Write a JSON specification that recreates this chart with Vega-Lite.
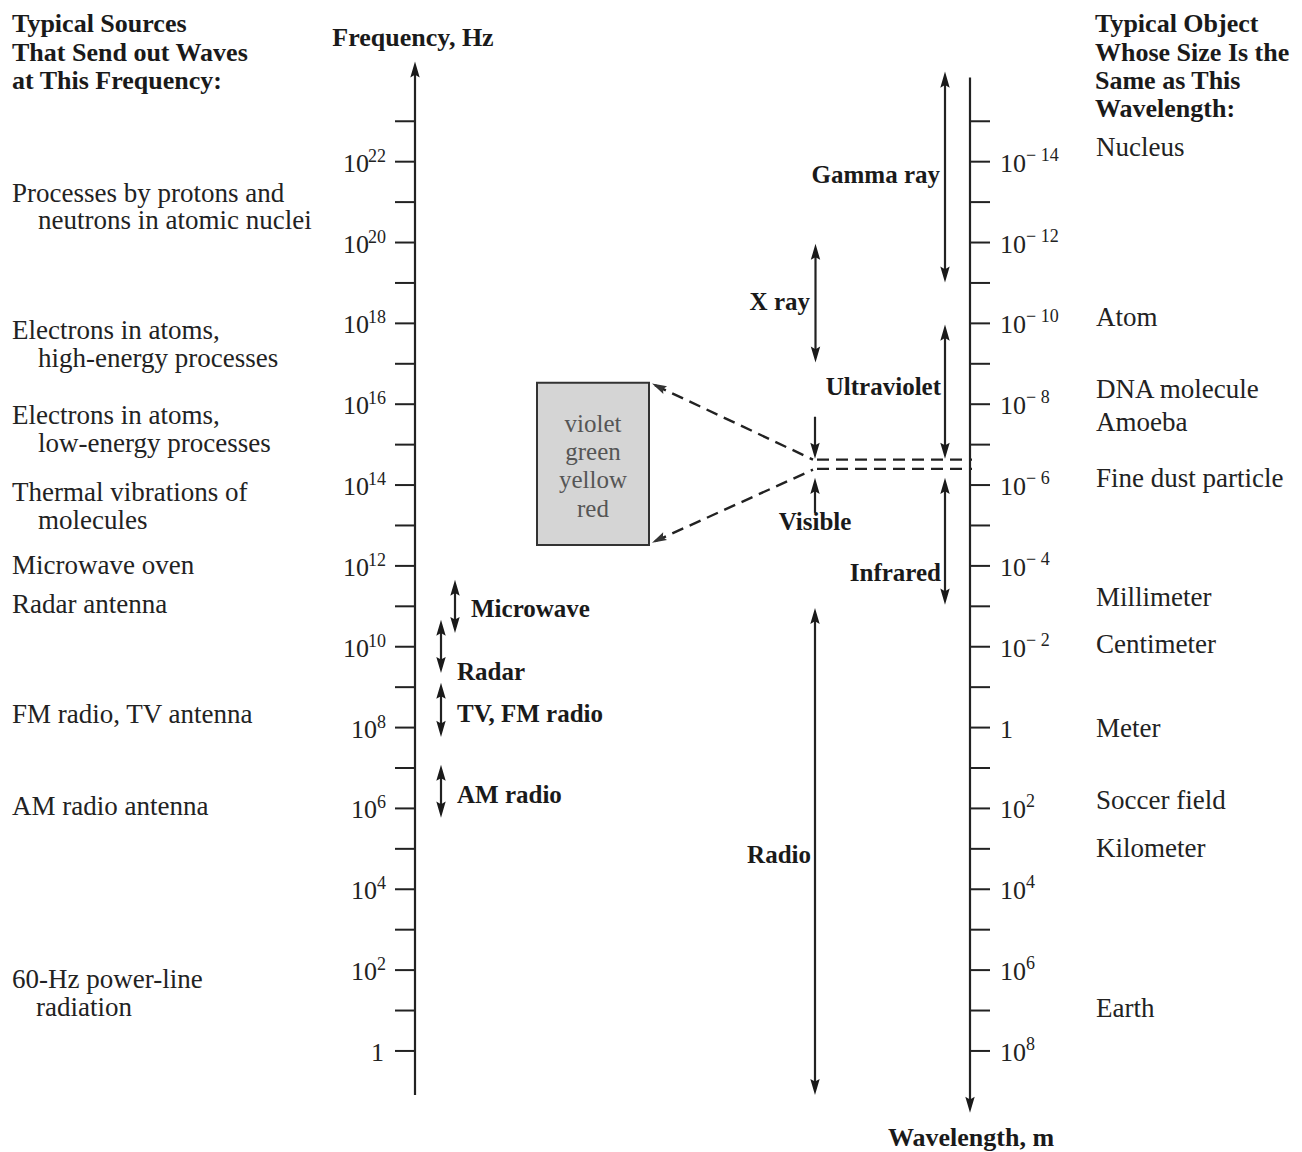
{
  "$schema": "https://vega.github.io/schema/vega-lite/v6.json",
  "width": 1302,
  "height": 1152,
  "autosize": {"type": "none"},
  "padding": 0,
  "background": "white",
  "config": {"view": {"stroke": null}},
  "datasets": {
    "shafts": [
      {"x": 415, "L": -1.09, "L2": 24.33},
      {"x": 970, "L": -1.38, "L2": 24.08},
      {"x": 945, "L": 19.16, "L2": 24.08},
      {"x": 815.5, "L": 17.18, "L2": 19.82},
      {"x": 945, "L": 14.8, "L2": 17.82},
      {"x": 815, "L": 14.8, "L2": 15.69},
      {"x": 815, "L": 13.31, "L2": 14.03},
      {"x": 945, "L": 11.19, "L2": 14.03},
      {"x": 815, "L": -0.94, "L2": 10.81},
      {"x": 455, "L": 10.49, "L2": 11.51},
      {"x": 441, "L": 9.5, "L2": 10.52},
      {"x": 441, "L": 7.92, "L2": 8.96},
      {"x": 441, "L": 5.92, "L2": 6.93}
    ],
    "heads": [
      {"x": 415, "L": 24.48, "dir": "up"},
      {"x": 945, "L": 24.23, "dir": "up"},
      {"x": 815.5, "L": 19.97, "dir": "up"},
      {"x": 945, "L": 17.97, "dir": "up"},
      {"x": 815, "L": 14.18, "dir": "up"},
      {"x": 945, "L": 14.18, "dir": "up"},
      {"x": 815, "L": 10.96, "dir": "up"},
      {"x": 455, "L": 11.66, "dir": "up"},
      {"x": 441, "L": 10.67, "dir": "up"},
      {"x": 441, "L": 9.11, "dir": "up"},
      {"x": 441, "L": 7.08, "dir": "up"},
      {"x": 970, "L": -1.53, "dir": "down"},
      {"x": 945, "L": 19.01, "dir": "down"},
      {"x": 815.5, "L": 17.03, "dir": "down"},
      {"x": 945, "L": 14.65, "dir": "down"},
      {"x": 815, "L": 14.65, "dir": "down"},
      {"x": 945, "L": 11.04, "dir": "down"},
      {"x": 815, "L": -1.09, "dir": "down"},
      {"x": 455, "L": 10.34, "dir": "down"},
      {"x": 441, "L": 9.35, "dir": "down"},
      {"x": 441, "L": 7.77, "dir": "down"},
      {"x": 441, "L": 5.77, "dir": "down"},
      {"x": 652, "L": 16.51, "dir": "upleft"},
      {"x": 652, "L": 12.57, "dir": "downleft"}
    ],
    "dashes": [
      {"seg": "a", "x": 813, "L": 14.63},
      {"seg": "a", "x": 655, "L": 16.47},
      {"seg": "b", "x": 813, "L": 14.38},
      {"seg": "b", "x": 655, "L": 12.61},
      {"seg": "c", "x": 817, "L": 14.63},
      {"seg": "c", "x": 972, "L": 14.63},
      {"seg": "d", "x": 817, "L": 14.4},
      {"seg": "d", "x": 972, "L": 14.4}
    ],
    "box": [{"x": 537, "x2": 649, "L": 12.52, "L2": 16.53}],
    "decades": [
      {"L": 0}, {"L": 1}, {"L": 2}, {"L": 3}, {"L": 4}, {"L": 5}, {"L": 6}, {"L": 7},
      {"L": 8}, {"L": 9}, {"L": 10}, {"L": 11}, {"L": 12}, {"L": 13}, {"L": 14}, {"L": 15},
      {"L": 16}, {"L": 17}, {"L": 18}, {"L": 19}, {"L": 20}, {"L": 21}, {"L": 22}, {"L": 23}
    ],
    "freqLabels": [
      {"L": 22, "base": "10", "exp": "22"},
      {"L": 20, "base": "10", "exp": "20"},
      {"L": 18, "base": "10", "exp": "18"},
      {"L": 16, "base": "10", "exp": "16"},
      {"L": 14, "base": "10", "exp": "14"},
      {"L": 12, "base": "10", "exp": "12"},
      {"L": 10, "base": "10", "exp": "10"},
      {"L": 8, "base": "10", "exp": "8"},
      {"L": 6, "base": "10", "exp": "6"},
      {"L": 4, "base": "10", "exp": "4"},
      {"L": 2, "base": "10", "exp": "2"},
      {"L": 0, "base": "1", "exp": ""}
    ],
    "waveLabels": [
      {"L": 22, "base": "10", "exp": "− 14"},
      {"L": 20, "base": "10", "exp": "− 12"},
      {"L": 18, "base": "10", "exp": "− 10"},
      {"L": 16, "base": "10", "exp": "− 8"},
      {"L": 14, "base": "10", "exp": "− 6"},
      {"L": 12, "base": "10", "exp": "− 4"},
      {"L": 10, "base": "10", "exp": "− 2"},
      {"L": 8, "base": "1", "exp": ""},
      {"L": 6, "base": "10", "exp": "2"},
      {"L": 4, "base": "10", "exp": "4"},
      {"L": 2, "base": "10", "exp": "6"},
      {"L": 0, "base": "10", "exp": "8"}
    ],
    "texts": [
      {"role": "head", "x": 12, "L": 25.4, "text": "Typical Sources"},
      {"role": "head", "x": 12, "L": 24.7, "text": "That Send out Waves"},
      {"role": "head", "x": 12, "L": 23.99, "text": "at This Frequency:"},
      {"role": "head", "x": 1095, "L": 25.4, "text": "Typical Object"},
      {"role": "head", "x": 1095, "L": 24.69, "text": "Whose Size Is the"},
      {"role": "head", "x": 1095, "L": 23.99, "text": "Same as This"},
      {"role": "head", "x": 1095, "L": 23.3, "text": "Wavelength:"},
      {"role": "bold", "x": 471, "L": 10.93, "text": "Microwave"},
      {"role": "bold", "x": 457, "L": 9.37, "text": "Radar"},
      {"role": "bold", "x": 457, "L": 8.33, "text": "TV, FM radio"},
      {"role": "bold", "x": 457, "L": 6.32, "text": "AM radio"},
      {"role": "boldR", "x": 940, "L": 21.68, "text": "Gamma ray"},
      {"role": "boldR", "x": 810, "L": 18.52, "text": "X ray"},
      {"role": "boldR", "x": 941, "L": 16.42, "text": "Ultraviolet"},
      {"role": "boldR", "x": 941, "L": 11.83, "text": "Infrared"},
      {"role": "boldR", "x": 811, "L": 4.85, "text": "Radio"},
      {"role": "headC", "x": 413, "L": 25.06, "text": "Frequency, Hz"},
      {"role": "boldC", "x": 815, "L": 13.08, "text": "Visible"},
      {"role": "headC", "x": 971, "L": -2.15, "text": "Wavelength, m"},
      {"role": "plain", "x": 12, "L": 21.21, "text": "Processes by protons and"},
      {"role": "plain", "x": 38, "L": 20.53, "text": "neutrons in atomic nuclei"},
      {"role": "plain", "x": 12, "L": 17.82, "text": "Electrons in atoms,"},
      {"role": "plain", "x": 38, "L": 17.12, "text": "high-energy processes"},
      {"role": "plain", "x": 12, "L": 15.72, "text": "Electrons in atoms,"},
      {"role": "plain", "x": 38, "L": 15.02, "text": "low-energy processes"},
      {"role": "plain", "x": 12, "L": 13.81, "text": "Thermal vibrations of"},
      {"role": "plain", "x": 38, "L": 13.12, "text": "molecules"},
      {"role": "plain", "x": 12, "L": 12.0, "text": "Microwave oven"},
      {"role": "plain", "x": 12, "L": 11.04, "text": "Radar antenna"},
      {"role": "plain", "x": 12, "L": 8.31, "text": "FM radio, TV antenna"},
      {"role": "plain", "x": 12, "L": 6.04, "text": "AM radio antenna"},
      {"role": "plain", "x": 12, "L": 1.76, "text": "60-Hz power-line"},
      {"role": "plain", "x": 36, "L": 1.06, "text": "radiation"},
      {"role": "plain", "x": 1096, "L": 22.33, "text": "Nucleus"},
      {"role": "plain", "x": 1096, "L": 18.14, "text": "Atom"},
      {"role": "plain", "x": 1096, "L": 16.36, "text": "DNA molecule"},
      {"role": "plain", "x": 1096, "L": 15.54, "text": "Amoeba"},
      {"role": "plain", "x": 1096, "L": 14.16, "text": "Fine dust particle"},
      {"role": "plain", "x": 1096, "L": 11.21, "text": "Millimeter"},
      {"role": "plain", "x": 1096, "L": 10.05, "text": "Centimeter"},
      {"role": "plain", "x": 1096, "L": 7.97, "text": "Meter"},
      {"role": "plain", "x": 1096, "L": 6.19, "text": "Soccer field"},
      {"role": "plain", "x": 1096, "L": 5.0, "text": "Kilometer"},
      {"role": "plain", "x": 1096, "L": 1.04, "text": "Earth"},
      {"role": "box", "x": 593, "L": 15.5, "text": "violet"},
      {"role": "box", "x": 593, "L": 14.81, "text": "green"},
      {"role": "box", "x": 593, "L": 14.12, "text": "yellow"},
      {"role": "box", "x": 593, "L": 13.4, "text": "red"}
    ]
  },
  "encoding": {
    "y": {"field": "L", "type": "quantitative", "scale": {"domain": [-2.5, 26], "nice": false, "zero": false}, "axis": null}
  },
  "layer": [
    {
      "data": {"name": "box"},
      "mark": {"type": "rect", "fill": "#d5d5d5", "stroke": "#333333", "strokeWidth": 2},
      "encoding": {
        "x": {"field": "x", "type": "quantitative", "scale": {"domain": [0, 1302], "nice": false, "zero": false}, "axis": null},
        "x2": {"field": "x2"},
        "y2": {"field": "L2"}
      }
    },
    {
      "data": {"name": "dashes"},
      "mark": {"type": "line", "color": "#222222", "strokeWidth": 2.4, "strokeDash": [12, 7]},
      "encoding": {
        "x": {"field": "x", "type": "quantitative", "scale": {"domain": [0, 1302], "nice": false, "zero": false}, "axis": null},
        "detail": {"field": "seg"},
        "order": {"field": "x"}
      }
    },
    {
      "data": {"name": "shafts"},
      "mark": {"type": "rule", "color": "#222222", "strokeWidth": 2.2},
      "encoding": {
        "x": {"field": "x", "type": "quantitative", "scale": {"domain": [0, 1302], "nice": false, "zero": false}, "axis": null},
        "y2": {"field": "L2"}
      }
    },
    {
      "data": {"name": "decades"},
      "mark": {"type": "rule", "color": "#222222", "strokeWidth": 2},
      "encoding": {
        "x": {"datum": 395, "type": "quantitative", "scale": {"domain": [0, 1302], "nice": false, "zero": false}, "axis": null},
        "x2": {"datum": 415}
      }
    },
    {
      "data": {"name": "decades"},
      "mark": {"type": "rule", "color": "#222222", "strokeWidth": 2},
      "encoding": {
        "x": {"datum": 970, "type": "quantitative", "scale": {"domain": [0, 1302], "nice": false, "zero": false}, "axis": null},
        "x2": {"datum": 990}
      }
    },
    {
      "data": {"name": "heads"},
      "transform": [{"filter": "datum.dir === 'up'"}],
      "mark": {"type": "point", "filled": true, "color": "#1a1a1a", "opacity": 1, "size": 180, "shape": "M0,0L-0.7,2.4L0,2.0L0.7,2.4Z"},
      "encoding": {"x": {"field": "x", "type": "quantitative", "scale": {"domain": [0, 1302], "nice": false, "zero": false}, "axis": null}}
    },
    {
      "data": {"name": "heads"},
      "transform": [{"filter": "datum.dir === 'down'"}],
      "mark": {"type": "point", "filled": true, "color": "#1a1a1a", "opacity": 1, "size": 180, "shape": "M0,0L-0.7,-2.4L0,-2.0L0.7,-2.4Z"},
      "encoding": {"x": {"field": "x", "type": "quantitative", "scale": {"domain": [0, 1302], "nice": false, "zero": false}, "axis": null}}
    },
    {
      "data": {"name": "heads"},
      "transform": [{"filter": "datum.dir === 'upleft'"}],
      "mark": {"type": "point", "filled": true, "color": "#333333", "opacity": 1, "size": 150, "angle": 296, "shape": "M0,0L-0.7,2.4L0,2.0L0.7,2.4Z"},
      "encoding": {"x": {"field": "x", "type": "quantitative", "scale": {"domain": [0, 1302], "nice": false, "zero": false}, "axis": null}}
    },
    {
      "data": {"name": "heads"},
      "transform": [{"filter": "datum.dir === 'downleft'"}],
      "mark": {"type": "point", "filled": true, "color": "#333333", "opacity": 1, "size": 150, "angle": 243, "shape": "M0,0L-0.7,2.4L0,2.0L0.7,2.4Z"},
      "encoding": {"x": {"field": "x", "type": "quantitative", "scale": {"domain": [0, 1302], "nice": false, "zero": false}, "axis": null}}
    },
    {
      "data": {"name": "freqLabels"},
      "transform": [{"filter": "datum.exp !== ''"}],
      "mark": {"type": "text", "font": "Liberation Serif", "fontSize": 18, "align": "right", "baseline": "middle", "dy": -5, "color": "#222222"},
      "encoding": {
        "x": {"datum": 386, "type": "quantitative", "scale": {"domain": [0, 1302], "nice": false, "zero": false}, "axis": null},
        "text": {"field": "exp"}
      }
    },
    {
      "data": {"name": "freqLabels"},
      "transform": [{"filter": "length(datum.exp) === 2"}],
      "mark": {"type": "text", "font": "Liberation Serif", "fontSize": 26, "align": "right", "baseline": "middle", "dy": 2, "color": "#222222"},
      "encoding": {
        "x": {"datum": 369, "type": "quantitative", "scale": {"domain": [0, 1302], "nice": false, "zero": false}, "axis": null},
        "text": {"field": "base"}
      }
    },
    {
      "data": {"name": "freqLabels"},
      "transform": [{"filter": "length(datum.exp) === 1"}],
      "mark": {"type": "text", "font": "Liberation Serif", "fontSize": 26, "align": "right", "baseline": "middle", "dy": 2, "color": "#222222"},
      "encoding": {
        "x": {"datum": 377, "type": "quantitative", "scale": {"domain": [0, 1302], "nice": false, "zero": false}, "axis": null},
        "text": {"field": "base"}
      }
    },
    {
      "data": {"name": "freqLabels"},
      "transform": [{"filter": "datum.exp === ''"}],
      "mark": {"type": "text", "font": "Liberation Serif", "fontSize": 26, "align": "right", "baseline": "middle", "dy": 2, "color": "#222222"},
      "encoding": {
        "x": {"datum": 384, "type": "quantitative", "scale": {"domain": [0, 1302], "nice": false, "zero": false}, "axis": null},
        "text": {"field": "base"}
      }
    },
    {
      "data": {"name": "waveLabels"},
      "mark": {"type": "text", "font": "Liberation Serif", "fontSize": 26, "align": "left", "baseline": "middle", "dy": 2, "color": "#222222"},
      "encoding": {
        "x": {"datum": 1000, "type": "quantitative", "scale": {"domain": [0, 1302], "nice": false, "zero": false}, "axis": null},
        "text": {"field": "base"}
      }
    },
    {
      "data": {"name": "waveLabels"},
      "mark": {"type": "text", "font": "Liberation Serif", "fontSize": 18, "align": "left", "baseline": "middle", "dy": -6, "color": "#222222"},
      "encoding": {
        "x": {"datum": 1026, "type": "quantitative", "scale": {"domain": [0, 1302], "nice": false, "zero": false}, "axis": null},
        "text": {"field": "exp"}
      }
    },
    {
      "data": {"name": "texts"},
      "transform": [{"filter": "datum.role === 'plain'"}],
      "mark": {"type": "text", "font": "Liberation Serif", "fontSize": 27, "align": "left", "baseline": "middle", "color": "#222222"},
      "encoding": {
        "x": {"field": "x", "type": "quantitative", "scale": {"domain": [0, 1302], "nice": false, "zero": false}, "axis": null},
        "text": {"field": "text"}
      }
    },
    {
      "data": {"name": "texts"},
      "transform": [{"filter": "datum.role === 'head'"}],
      "mark": {"type": "text", "font": "Liberation Serif", "fontWeight": "bold", "fontSize": 26, "align": "left", "baseline": "middle", "color": "#1a1a1a"},
      "encoding": {
        "x": {"field": "x", "type": "quantitative", "scale": {"domain": [0, 1302], "nice": false, "zero": false}, "axis": null},
        "text": {"field": "text"}
      }
    },
    {
      "data": {"name": "texts"},
      "transform": [{"filter": "datum.role === 'bold'"}],
      "mark": {"type": "text", "font": "Liberation Serif", "fontWeight": "bold", "fontSize": 25, "align": "left", "baseline": "middle", "color": "#1a1a1a"},
      "encoding": {
        "x": {"field": "x", "type": "quantitative", "scale": {"domain": [0, 1302], "nice": false, "zero": false}, "axis": null},
        "text": {"field": "text"}
      }
    },
    {
      "data": {"name": "texts"},
      "transform": [{"filter": "datum.role === 'boldR'"}],
      "mark": {"type": "text", "font": "Liberation Serif", "fontWeight": "bold", "fontSize": 25, "align": "right", "baseline": "middle", "color": "#1a1a1a"},
      "encoding": {
        "x": {"field": "x", "type": "quantitative", "scale": {"domain": [0, 1302], "nice": false, "zero": false}, "axis": null},
        "text": {"field": "text"}
      }
    },
    {
      "data": {"name": "texts"},
      "transform": [{"filter": "datum.role === 'boldC'"}],
      "mark": {"type": "text", "font": "Liberation Serif", "fontWeight": "bold", "fontSize": 25, "align": "center", "baseline": "middle", "color": "#1a1a1a"},
      "encoding": {
        "x": {"field": "x", "type": "quantitative", "scale": {"domain": [0, 1302], "nice": false, "zero": false}, "axis": null},
        "text": {"field": "text"}
      }
    },
    {
      "data": {"name": "texts"},
      "transform": [{"filter": "datum.role === 'headC'"}],
      "mark": {"type": "text", "font": "Liberation Serif", "fontWeight": "bold", "fontSize": 26, "align": "center", "baseline": "middle", "color": "#1a1a1a"},
      "encoding": {
        "x": {"field": "x", "type": "quantitative", "scale": {"domain": [0, 1302], "nice": false, "zero": false}, "axis": null},
        "text": {"field": "text"}
      }
    },
    {
      "data": {"name": "texts"},
      "transform": [{"filter": "datum.role === 'box'"}],
      "mark": {"type": "text", "font": "Liberation Serif", "fontSize": 25, "align": "center", "baseline": "middle", "color": "#555555"},
      "encoding": {
        "x": {"field": "x", "type": "quantitative", "scale": {"domain": [0, 1302], "nice": false, "zero": false}, "axis": null},
        "text": {"field": "text"}
      }
    }
  ]
}
